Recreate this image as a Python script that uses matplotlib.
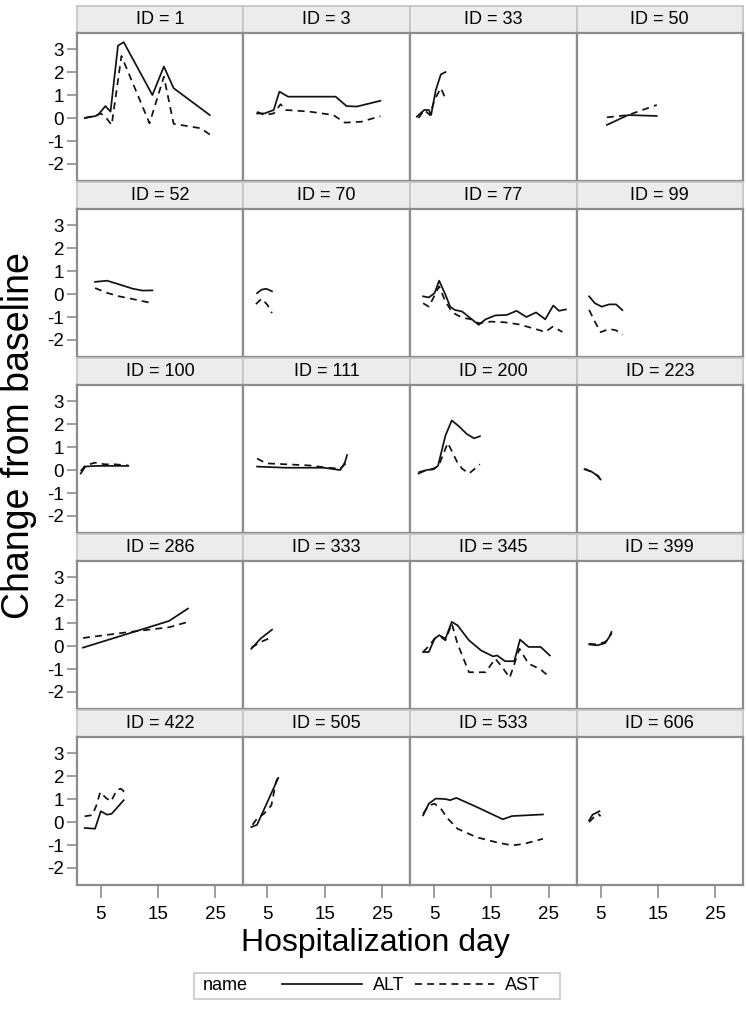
import matplotlib
matplotlib.use("Agg")
import matplotlib.pyplot as plt
from matplotlib.lines import Line2D
from matplotlib.patches import Rectangle

plt.rcParams['font.family'] = ['Liberation Sans', 'DejaVu Sans']

# change from baseline per patient: (days, values)
id_1 = {"ALT": ([2.2, 3.2, 4.0, 4.5, 5.8, 6.7, 8.0, 9.0, 14.0, 16.0, 17.7, 24.0],
                [0.0, 0.05, 0.08, 0.13, 0.52, 0.28, 3.15, 3.3, 1.0, 2.24, 1.3, 0.13]),
        "AST": ([2.2, 4.0, 5.0, 5.8, 6.9, 8.6, 13.5, 16.0, 17.7, 22.5, 24.0],
                [0.0, 0.1, 0.2, 0.05, -0.3, 2.7, -0.23, 1.8, -0.25, -0.45, -0.72])}
id_3 = {"ALT": ([3.2, 4.5, 6.1, 7.1, 8.6, 16.9, 18.8, 20.6, 24.7],
                [0.2, 0.2, 0.35, 1.15, 0.93, 0.93, 0.52, 0.5, 0.75]),
        "AST": ([3.2, 4.5, 6.1, 7.3, 8.2, 12.3, 16.5, 18.5, 21.4, 24.7],
                [0.27, 0.13, 0.2, 0.6, 0.35, 0.28, 0.13, -0.2, -0.16, 0.08])}
id_33 = {"ALT": ([2.0, 3.3, 4.1, 4.5, 5.3, 6.2, 7.0], [0.06, 0.35, 0.35, 0.13, 1.2, 1.9, 2.0]),
         "AST": ([2.3, 3.3, 4.3, 5.1, 6.2, 7.0], [0.0, 0.35, 0.13, 0.8, 1.3, 0.85])}
id_50 = {"ALT": ([6.1, 9.8, 14.8], [-0.3, 0.13, 0.09]),
         "AST": ([6.1, 9.8, 14.8], [0.03, 0.13, 0.57])}
id_52 = {"ALT": ([4.0, 6.1, 8.2, 10.6, 12.3, 14.0], [0.53, 0.58, 0.42, 0.23, 0.15, 0.16]),
         "AST": ([4.0, 6.1, 8.2, 10.6, 14.0], [0.26, 0.05, -0.1, -0.22, -0.4])}
id_70 = {"ALT": ([3.2, 4.0, 4.8, 5.8], [0.04, 0.19, 0.23, 0.12]),
         "AST": ([3.0, 4.0, 5.0, 5.8], [-0.44, -0.2, -0.47, -0.83])}
id_77 = {"ALT": ([3.1, 4.1, 5.1, 5.9, 7.0, 7.8, 8.6, 9.9, 11.1, 12.8, 14.0, 15.7, 17.7, 19.4, 21.1, 22.8, 24.4, 25.8, 26.8, 28.0],
                 [-0.1, -0.15, 0.04, 0.58, -0.03, -0.54, -0.69, -0.76, -1.0, -1.34, -1.1, -0.93, -0.91, -0.73, -1.0, -0.8, -1.1, -0.5, -0.73, -0.67]),
         "AST": ([3.1, 4.1, 5.1, 5.9, 7.0, 8.2, 9.9, 11.5, 12.8, 14.9, 17.3, 19.8, 22.4, 24.4, 25.7, 27.4],
                 [-0.4, -0.55, -0.06, 0.33, -0.33, -0.8, -1.03, -1.1, -1.27, -1.2, -1.23, -1.32, -1.5, -1.65, -1.42, -1.65])}
id_99 = {"ALT": ([3.0, 4.0, 5.2, 6.5, 7.7, 8.8], [-0.1, -0.4, -0.55, -0.45, -0.45, -0.7]),
         "AST": ([3.0, 4.0, 5.0, 6.5, 7.7, 8.8], [-0.69, -1.2, -1.66, -1.52, -1.58, -1.77])}
id_100 = {"ALT": ([1.5, 2.3, 4.0, 7.3, 9.8], [-0.15, 0.15, 0.18, 0.18, 0.18]),
          "AST": ([1.5, 2.3, 4.0, 5.7, 7.3, 9.8], [-0.05, 0.2, 0.32, 0.25, 0.25, 0.2])}
id_111 = {"ALT": ([3.2, 8.2, 14.8, 17.7, 18.5, 18.9], [0.15, 0.1, 0.1, 0.0, 0.32, 0.65]),
          "AST": ([3.2, 4.8, 8.2, 12.3, 15.6, 17.7, 18.8], [0.5, 0.29, 0.25, 0.2, 0.1, 0.06, 0.32])}
id_200 = {"ALT": ([2.3, 3.7, 4.9, 5.7, 7.0, 8.1, 9.5, 10.7, 12.0, 13.0],
                  [-0.15, 0.0, 0.03, 0.18, 1.5, 2.16, 1.87, 1.57, 1.38, 1.47]),
          "AST": ([2.3, 3.7, 4.9, 5.8, 7.4, 9.1, 9.9, 11.1, 12.0, 13.0],
                  [-0.1, 0.0, 0.06, 0.18, 1.18, 0.32, 0.06, -0.15, 0.03, 0.25])}
id_223 = {"ALT": ([2.2, 3.3, 4.4, 5.0], [0.03, -0.05, -0.24, -0.41]),
          "AST": ([2.2, 3.5, 4.6, 5.0], [0.06, -0.1, -0.26, -0.44])}
id_286 = {"ALT": ([1.9, 16.9, 20.2], [-0.07, 1.09, 1.63]),
          "AST": ([1.9, 5.0, 9.0, 13.0, 17.0, 20.2], [0.35, 0.45, 0.58, 0.7, 0.82, 1.05])}
id_333 = {"ALT": ([2.2, 3.8, 5.8], [-0.12, 0.32, 0.71]),
          "AST": ([2.2, 3.8, 5.8], [-0.07, 0.17, 0.39])}
id_345 = {"ALT": ([3.1, 4.1, 5.1, 5.9, 7.0, 8.1, 9.1, 11.1, 13.2, 15.3, 16.0, 17.4, 19.0, 20.0, 21.5, 23.6, 25.2],
                  [-0.26, -0.26, 0.32, 0.47, 0.32, 1.05, 0.9, 0.25, -0.19, -0.45, -0.41, -0.66, -0.66, 0.28, -0.04, -0.04, -0.41]),
          "AST": ([3.1, 4.1, 5.1, 6.2, 7.0, 8.1, 9.1, 11.1, 14.0, 15.7, 16.9, 18.2, 19.9, 21.5, 23.5, 25.2],
                  [-0.26, 0.0, 0.32, 0.39, 0.25, 0.98, 0.1, -1.14, -1.14, -0.55, -0.92, -1.38, -0.12, -0.77, -1.0, -1.36])}
id_399 = {"ALT": ([3.0, 4.4, 5.8, 6.5, 6.9], [0.07, 0.03, 0.13, 0.39, 0.61]),
          "AST": ([3.0, 4.4, 5.7, 6.5, 6.9], [0.1, 0.07, 0.17, 0.32, 0.57])}
id_422 = {"ALT": ([2.2, 4.0, 5.0, 6.1, 6.9, 9.0], [-0.26, -0.29, 0.47, 0.32, 0.36, 0.95]),
          "AST": ([2.2, 3.5, 4.2, 4.9, 5.9, 6.8, 7.8, 8.5, 9.2], [0.25, 0.3, 0.7, 1.3, 1.05, 0.9, 1.4, 1.45, 1.3])}
id_505 = {"ALT": ([2.2, 3.2, 6.9], [-0.22, -0.12, 1.92]),
          "AST": ([2.4, 3.2, 4.4, 5.7, 6.5, 6.9], [-0.12, 0.15, 0.36, 0.73, 1.75, 1.97])}
id_533 = {"ALT": ([3.1, 4.1, 5.3, 7.0, 7.8, 8.9, 12.4, 17.0, 18.6, 24.0],
                  [0.29, 0.8, 1.02, 1.0, 0.95, 1.05, 0.66, 0.12, 0.26, 0.33]),
          "AST": ([3.1, 4.1, 5.1, 6.2, 7.4, 9.1, 12.4, 15.7, 18.6, 20.7, 24.0],
                  [0.36, 0.72, 0.8, 0.58, 0.15, -0.29, -0.66, -0.87, -1.02, -0.95, -0.73])}
id_606 = {"ALT": ([3.0, 3.6, 4.8], [0.07, 0.32, 0.47]),
          "AST": ([3.0, 3.8, 4.6, 5.0], [0.0, 0.2, 0.35, 0.25])}

ids = [1, 3, 33, 50, 52, 70, 77, 99, 100, 111, 200, 223, 286, 333, 345, 399, 422, 505, 533, 606]
panels = [id_1, id_3, id_33, id_50, id_52, id_70, id_77, id_99, id_100, id_111,
          id_200, id_223, id_286, id_333, id_345, id_399, id_422, id_505, id_533, id_606]
x_ticks = [5, 15, 25]
y_ticks = [-2, -1, 0, 1, 2, 3]

styles = {"ALT": dict(color='#111111', lw=1.25, ls='-'),
          "AST": dict(color='#111111', lw=1.25, ls=(0, (4, 3)))}

W, H = 747, 1010
fig = plt.figure(figsize=(W / 100, H / 100), dpi=100)
left, colw = 76.7, 166.6
row_step, strip_h, plot_h = 176, 27, 148
border = '#8c8c8c'

for k, (pid, data) in enumerate(zip(ids, panels)):
    r, c = divmod(k, 4)
    top = 6 + r * row_step
    x0 = (left + c * colw) / W
    sax = fig.add_axes([x0, 1 - (top + strip_h) / H, colw / W, strip_h / H])
    sax.set_facecolor('#ececec')
    sax.set_xticks([])
    sax.set_yticks([])
    for s in sax.spines.values():
        s.set_color('#c4c4c4')
        s.set_linewidth(1.2)
    sax.text(0.5, 0.5, "ID = {}".format(pid), ha='center', va='center', fontsize=13, transform=sax.transAxes)

    ax = fig.add_axes([x0, 1 - (top + strip_h + plot_h) / H, colw / W, plot_h / H])
    for name in ["ALT", "AST"]:
        days, vals = data[name]
        ax.plot(days, vals, **styles[name])
    ax.set_xlim(0.8, 29.85)
    ax.set_ylim(-2.74, 3.7)
    for s in ax.spines.values():
        s.set_color(border)
        s.set_linewidth(1.6)
    ax.tick_params(colors='#8c8c8c', labelcolor='black', labelsize=13.5, length=7, width=1.2)
    ax.set_xticks(x_ticks)
    ax.set_yticks(y_ticks)
    if c != 0:
        ax.tick_params(axis='y', left=False, labelleft=False)
    else:
        ax.set_yticklabels([str(v) for v in y_ticks])
        ax.tick_params(axis='y', pad=2)
    if r != 4:
        ax.tick_params(axis='x', bottom=False, labelbottom=False)
    else:
        ax.tick_params(axis='x', length=9, pad=6)

fig.text(375 / W, 1 - 943 / H, "Hospitalization day", ha='center', va='center', fontsize=23)
fig.text(19 / W, 1 - 436 / H, "Change from baseline", ha='center', va='center', rotation=90, fontsize=27)

# legend box
fig.patches.append(Rectangle((194 / W, 1 - 999 / H), 366 / W, 26.5 / H, transform=fig.transFigure,
                             facecolor='white', edgecolor='#c8c8c8', lw=1.2))
fig.text(203 / W, 1 - 986 / H, "name", ha='left', va='center', fontsize=13)
handles = [Line2D([], [], **styles["ALT"]), Line2D([], [], **styles["AST"])]
fig.legend(handles, ["ALT", "AST"], ncol=2, frameon=False, loc='center left',
           bbox_to_anchor=(266 / W, 1 - 986 / H), fontsize=13, handlelength=4.4,
           handletextpad=0.6, columnspacing=0.6)

fig.savefig("out.png", dpi=100)
